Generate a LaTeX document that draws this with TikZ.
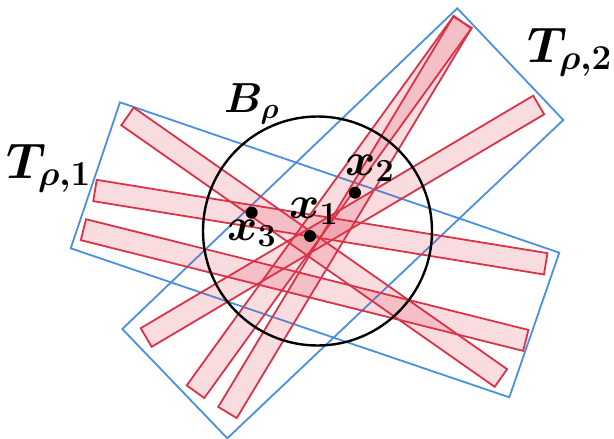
\documentclass[tikz,border=0pt]{standalone}
\usepackage{fix-cm}
\usepackage{amsmath}
\usepackage{tikz}
\usetikzlibrary{calc}
\definecolor{tubeblue}{RGB}{74,144,226}
\definecolor{stripred}{RGB}{220,50,72}

\begin{document}
\begin{tikzpicture}[x=1pt, y=-1pt,
    tube/.style={draw=tubeblue, line width=1.8pt, line join=miter},
    strip/.style={draw=stripred, line width=1.8pt, fill=stripred, fill opacity=0.17},
    lbl/.style={inner sep=0pt, anchor=base west}]
    \useasboundingbox (0,0) rectangle (614,439);
    \draw[tube] (120,102.3) -- (559.3,252.7) -- (509.3,397.3) -- (70.7,248.3) -- cycle;
    \draw[tube] (457.3,8.3) -- (563.3,120) -- (227.3,438.3) -- (122.3,329) -- cycle;
    \foreach \ax/\ay/\bx/\by in {127.5/116.4/500.9/378, 95/190.5/545.7/263.8, 83.4/229.7/525.8/340.4,
        146.2/337.5/538.7/105, 195.5/391.7/462.5/22.2, 227.5/412.5/462.5/22.2}
      \draw[strip] ($(\ax,\ay)!10.8pt!90:(\bx,\by)$) -- ($(\bx,\by)!10.8pt!-90:(\ax,\ay)$)
        -- ($(\bx,\by)!10.8pt!90:(\ax,\ay)$) -- ($(\ax,\ay)!10.8pt!-90:(\bx,\by)$) -- cycle;
    \coordinate (ctr) at (317.5,231);
    \draw[line width=2.4pt] (ctr) circle[radius=114.5pt];
    \foreach \n/\px/\py in {1/310/236, 2/355/192.7, 3/251.7/212.7} {
      \coordinate (x\n) at (\px,\py);
      \fill (x\n) circle (6pt);
    }
    \node[lbl, font=\fontsize{50}{50}\selectfont\boldmath] (tlab1) at (6,178) {$T_{\rho,1}$};
    \node[lbl, font=\fontsize{50}{50}\selectfont\boldmath] (tlab2) at (527,62) {$T_{\rho,2}$};
    \node[lbl, font=\fontsize{42}{42}\selectfont\boldmath] (blab) at (224,112) {$B_\rho$};
    \node[lbl, font=\fontsize{46}{46}\selectfont\boldmath] (xlab1) at (289,218) {$x_1$};
    \node[lbl, font=\fontsize{46}{46}\selectfont\boldmath] (xlab2) at (345,175) {$x_2$};
    \node[lbl, font=\fontsize{46}{46}\selectfont\boldmath] (xlab3) at (227,240) {$x_3$};
\end{tikzpicture}
\end{document}
